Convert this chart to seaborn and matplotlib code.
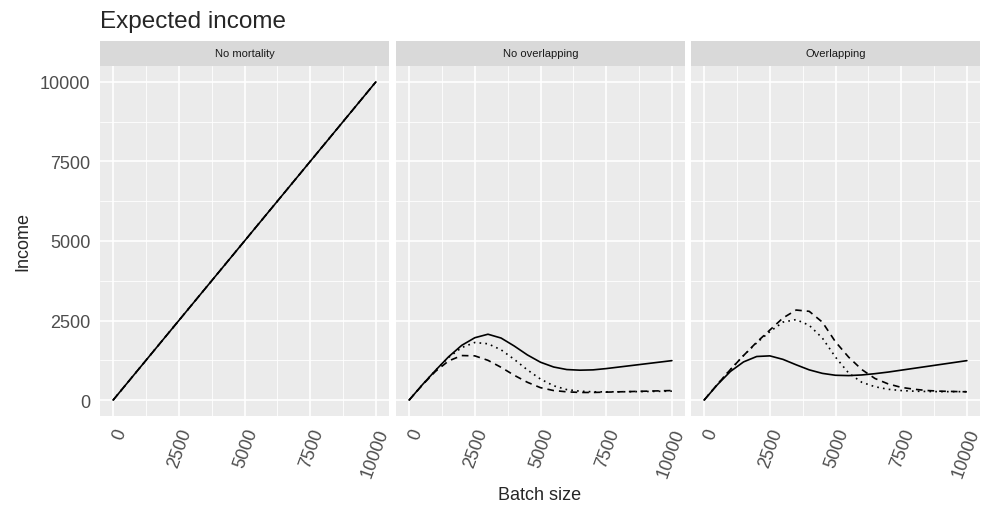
import numpy as np
import pandas as pd
import matplotlib
matplotlib.use("Agg")
import matplotlib.pyplot as plt
import seaborn as sns

# batch sizes sampled along the x axis
batch = [0, 500, 1000, 1500, 2000, 2500, 3000, 3500, 4000, 4500, 5000,
         5500, 6000, 6500, 7000, 7500, 8000, 8500, 9000, 9500, 10000]

panels = ["No mortality", "No overlapping", "Overlapping"]
series = ["solid", "dotted", "dashed"]

# No mortality: all three scenarios coincide
nomort_solid = list(batch)
nomort_dotted = list(batch)
nomort_dashed = list(batch)

# No overlapping
noov_solid = [0, 480, 930, 1360, 1720, 1960, 2070, 1950, 1700, 1420, 1190,
              1040, 960, 940, 950, 990, 1040, 1090, 1140, 1190, 1240]
noov_dotted = [0, 480, 930, 1340, 1650, 1810, 1770, 1580, 1280, 950, 660,
               450, 330, 280, 260, 260, 260, 265, 270, 275, 280]
noov_dashed = [0, 470, 900, 1230, 1400, 1390, 1250, 1030, 780, 560, 390,
               300, 260, 240, 240, 250, 260, 270, 280, 290, 300]

# Overlapping
ov_solid = [0, 480, 900, 1200, 1370, 1390, 1280, 1110, 950, 840, 780,
            770, 790, 830, 880, 940, 1000, 1060, 1120, 1180, 1240]
ov_dotted = [0, 490, 960, 1400, 1800, 2150, 2450, 2530, 2350, 1950, 1350,
             850, 560, 420, 340, 300, 280, 270, 265, 265, 265]
ov_dashed = [0, 490, 960, 1400, 1820, 2200, 2580, 2830, 2790, 2450, 1830,
             1350, 960, 680, 510, 400, 340, 300, 280, 270, 260]

values = {
    "No mortality": [nomort_solid, nomort_dotted, nomort_dashed],
    "No overlapping": [noov_solid, noov_dotted, noov_dashed],
    "Overlapping": [ov_solid, ov_dotted, ov_dashed],
}

rows = []
for p in panels:
    for s, ys in zip(series, values[p]):
        for x, y in zip(batch, ys):
            rows.append({"panel": p, "series": s, "batch": x, "income": y})
df = pd.DataFrame(rows)

sns.set_style("white")
plt.rcParams["font.family"] = ["Liberation Sans", "DejaVu Sans"]

fig = plt.figure(figsize=(9.83, 5.10), dpi=100)
W, H = 983, 510
lefts = [100, 396, 691]
width = 289
top, bottom = 67, 417
strip_h = 25

dash_map = {"solid": "", "dotted": (1, 2.5), "dashed": (4, 3)}
ticks = [0, 2500, 5000, 7500, 10000]
minor = [1250, 3750, 6250, 8750]

for i, p in enumerate(panels):
    ax = fig.add_axes([lefts[i] / W, 1 - bottom / H, width / W, (bottom - top) / H])
    ax.set_facecolor("#EBEBEB")
    for m in minor:
        ax.axvline(m, color="white", lw=0.6, zorder=0)
        ax.axhline(m, color="white", lw=0.6, zorder=0)
    for t in ticks:
        ax.axvline(t, color="white", lw=1.2, zorder=0)
        ax.axhline(t, color="white", lw=1.2, zorder=0)
    sub = df[df["panel"] == p]
    sns.lineplot(data=sub, x="batch", y="income", style="series",
                 dashes=dash_map, color="black", lw=1.2, legend=False,
                 ax=ax, zorder=3)
    ax.set_xlim(-500, 10500)
    ax.set_ylim(-500, 10500)
    ax.set_xticks(ticks)
    ax.set_xticklabels([str(t) for t in ticks], rotation=70, ha="right",
                       va="top", rotation_mode="anchor", fontsize=13,
                       color="#4D4D4D")
    ax.set_yticks(ticks)
    if i == 0:
        ax.set_yticklabels([str(t) for t in ticks], fontsize=13, color="#4D4D4D")
        ax.set_ylabel("Income", fontsize=13, labelpad=6)
    else:
        ax.set_yticklabels([])
        ax.set_ylabel("")
    ax.set_xlabel("")
    ax.tick_params(axis="both", direction="out", length=4, width=0.8,
                   color="#333333", pad=3)
    if i != 0:
        ax.tick_params(axis="y", length=0)
    for sp in ax.spines.values():
        sp.set_visible(False)

    # facet strip on top of each panel
    sax = fig.add_axes([lefts[i] / W, 1 - top / H, width / W, strip_h / H])
    sax.set_facecolor("#D9D9D9")
    sax.set_xticks([])
    sax.set_yticks([])
    for sp in sax.spines.values():
        sp.set_visible(False)
    sax.text(0.5, 0.5, p, ha="center", va="center", fontsize=8,
             color="#1A1A1A", transform=sax.transAxes)

fig.text(100 / W, 1 - 22 / H, "Expected income", fontsize=17.5,
         ha="left", va="center")
fig.text((100 + 980) / 2 / W, 1 - 496 / H, "Batch size", fontsize=13,
         ha="center", va="center")

fig.savefig("out.png", dpi=100)
